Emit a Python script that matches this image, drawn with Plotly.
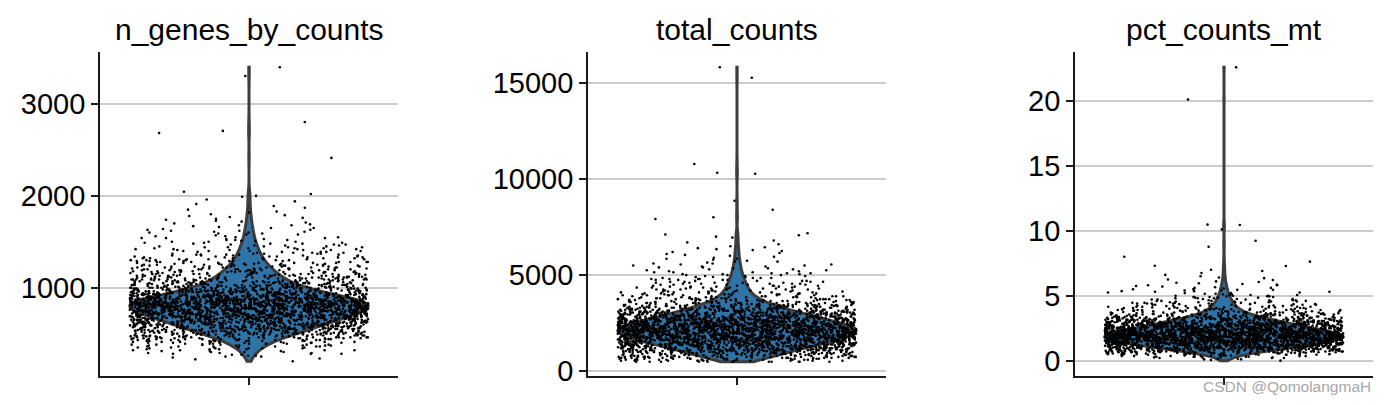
import numpy as np
import plotly.graph_objects as go

# ---------------- data ----------------
panel_titles = ["n_genes_by_counts", "total_counts", "pct_counts_mt"]

# n_genes_by_counts: number of cells at each 10-gene level, starting at 200
ng_start, ng_step = 200, 10
ng_counts = [
    1, 0, 1, 1, 1, 2, 2, 2, 3, 3,
    3, 3, 4, 4, 5, 5, 6, 6, 7, 7,
    8, 9, 10, 11, 12, 13, 14, 15, 17, 18,
    20, 21, 22, 23, 24, 25, 26, 27, 28, 29,
    30, 31, 33, 34, 35, 37, 38, 39, 40, 41,
    42, 43, 44, 45, 46, 47, 48, 49, 50, 51,
    52, 53, 53, 52, 51, 50, 48, 46, 44, 42,
    40, 37, 35, 33, 31, 29, 27, 26, 24, 23,
    22, 21, 20, 19, 18, 17, 16, 16, 15, 15,
    14, 14, 13, 13, 12, 12, 11, 11, 10, 10,
    10, 9, 9, 8, 8, 8, 7, 7, 7, 6,
    6, 6, 6, 5, 5, 5, 5, 5, 4, 4,
    4, 4, 4, 4, 4, 3, 3, 3, 3, 3,
    3, 2, 3, 2, 3, 2, 2, 1, 2, 2,
    2, 2, 2, 2, 1, 2, 1, 1, 2, 1,
    1, 1, 1, 1, 1, 1, 1, 1, 1, 1,
    1, 0, 1, 1, 0, 1, 0, 1, 0, 1,
    0, 1, 0, 0, 1, 0, 1, 0, 0, 1,
    1,
]
ng_outliers = [2020, 2045, 2413, 2685, 2707, 2804, 3304, 3400]
ng_ticks = [1000, 2000, 3000]

# total_counts: number of cells at each 50-count level, starting at 500
tc_start, tc_step = 500, 50
tc_counts = [
    11, 12, 13, 15, 16, 18, 20, 21, 23, 25,
    27, 29, 31, 33, 35, 37, 39, 41, 43, 45,
    47, 49, 51, 53, 55, 57, 59, 60, 61, 62,
    63, 64, 65, 66, 66, 65, 63, 61, 59, 57,
    54, 52, 50, 48, 46, 44, 42, 40, 38, 36,
    35, 33, 31, 29, 27, 25, 23, 21, 20, 19,
    17, 16, 14, 13, 12, 11, 10, 10, 9, 8,
    8, 7, 7, 7, 6, 6, 6, 6, 5, 5,
    5, 5, 5, 4, 4, 4, 4, 4, 3, 3,
    3, 3, 3, 3, 2, 2, 2, 2, 2, 2,
    2, 2, 2, 1, 2, 1, 1, 2, 1, 1,
    1, 1, 1, 1, 1, 1, 1, 1, 1, 1,
    1, 0, 1, 0, 1, 0, 1, 0, 0, 1,
    1,
]
tc_outliers = [7069, 7110, 7173, 7916, 8004, 8400, 8867, 10270, 10322, 10775, 15260, 15800]
tc_ticks = [0, 5000, 10000, 15000]

# pct_counts_mt: number of cells at each 0.05 % level, starting at 0
mt_start, mt_step = 0.0, 0.05
mt_counts = [
    1, 1, 2, 2, 3, 4, 5, 6, 7, 8,
    10, 12, 14, 16, 19, 22, 25, 28, 31, 33,
    34, 36, 38, 40, 42, 45, 47, 49, 51, 52,
    54, 56, 58, 60, 62, 63, 64, 64, 63, 62,
    60, 58, 57, 55, 54, 52, 50, 49, 47, 46,
    44, 43, 41, 40, 38, 36, 35, 33, 31, 30,
    29, 27, 25, 24, 22, 21, 19, 18, 16, 15,
    14, 13, 12, 11, 10, 10, 9, 8, 8, 7,
    7, 7, 6, 6, 6, 5, 5, 5, 5, 5,
    4, 4, 4, 4, 4, 3, 3, 3, 3, 3,
    3, 3, 2, 2, 2, 2, 2, 2, 2, 2,
    2, 1, 2, 1, 1, 1, 2, 1, 1, 1,
    1, 1, 1, 0, 1, 1, 0, 1, 1, 0,
    1, 0, 1, 0, 0, 1, 0, 0, 1, 0,
    1,
]
mt_outliers = [7.28, 7.3, 7.62, 8.0, 8.77, 9.23, 10.1, 10.44, 10.47, 20.1, 22.57]
mt_ticks = [0, 5, 10, 15, 20]

# ---------------- styling / layout ----------------
FONT = "Liberation Sans, Arial, Helvetica, sans-serif"
VIOLIN_FILL = "#2f74a8"
VIOLIN_LINE = "#3d3d3d"
AXIS_COL = "#1a1a1a"
W, H = 1388, 405
x_domains_px = [(100, 398), (588, 886), (1075, 1373)]
y_domain_px = (52, 376)          # top, bottom in pixels
y_ranges = [[39, 3566], [-244, 16596], [-1.18, 23.75]]

panels = [
    (ng_start, ng_step, ng_counts, ng_outliers, ng_ticks),
    (tc_start, tc_step, tc_counts, tc_outliers, tc_ticks),
    (mt_start, mt_step, mt_counts, mt_outliers, mt_ticks),
]

fig = go.Figure()
layout_axes = {}
annotations = []

for i, (start, step, counts, outliers, ticks) in enumerate(panels):
    n = "" if i == 0 else str(i + 1)
    xa, ya = "x" + n, "y" + n
    counts = np.asarray(counts)
    levels = start + step * np.arange(len(counts))
    values = np.concatenate([np.repeat(levels, counts), np.asarray(outliers, float)])

    bw = np.std(values, ddof=1) * len(values) ** (-0.2)  # Scott's rule (as seaborn)
    fig.add_trace(go.Violin(
        y=values, x0=0, xaxis=xa, yaxis=ya, width=0.8,
        spanmode="hard", scalemode="width", bandwidth=bw,
        points=False, fillcolor=VIOLIN_FILL,
        line=dict(color=VIOLIN_LINE, width=3),
        box_visible=False, meanline_visible=False,
        hoverinfo="skip", showlegend=False,
    ))

    # jittered points, grouped by local density so the library's jitter spreads them evenly
    groups = [
        np.repeat(levels[counts >= 8], counts[counts >= 8]),
        np.repeat(levels[(counts >= 3) & (counts < 8)], counts[(counts >= 3) & (counts < 8)]),
        np.repeat(levels[(counts > 0) & (counts < 3)], counts[(counts > 0) & (counts < 3)]),
        np.asarray(outliers, float),
    ]
    for g in groups:
        fig.add_trace(go.Box(
            y=g, x0=0, xaxis=xa, yaxis=ya, width=0.8,
            boxpoints="all", jitter=1, pointpos=0,
            fillcolor="rgba(0,0,0,0)", line=dict(width=0, color="rgba(0,0,0,0)"),
            marker=dict(color="black", size=2.6, line=dict(width=0)),
            hoverinfo="skip", showlegend=False,
        ))

    x0p, x1p = x_domains_px[i]
    layout_axes["xaxis" + n] = dict(
        domain=[x0p / W, x1p / W], anchor=ya, type="linear", range=[-0.5, 0.5],
        showgrid=False, zeroline=False, showline=True, linecolor=AXIS_COL, linewidth=1.8,
        ticks="outside", ticklen=7, tickwidth=1.7, tickcolor=AXIS_COL,
        tickvals=[0], ticktext=[""], fixedrange=True, automargin=False,
    )
    layout_axes["yaxis" + n] = dict(
        domain=[(H - y_domain_px[1]) / H, (H - y_domain_px[0]) / H], anchor=xa,
        range=y_ranges[i], showgrid=True, gridcolor="#cccccc", gridwidth=1.6,
        zeroline=False, showline=True, linecolor=AXIS_COL, linewidth=1.8,
        ticks="outside", ticklen=7, tickwidth=1.7, tickcolor=AXIS_COL,
        tickvals=ticks, tickformat="d",
        tickfont=dict(size=29, color="black", family=FONT),
        fixedrange=True, automargin=False,
    )
    annotations.append(dict(
        text=panel_titles[i], xref="paper", yref="paper",
        x=(x0p + x1p) / 2 / W, y=(H - 29) / H, xanchor="center", yanchor="middle",
        showarrow=False, font=dict(size=30, color="black", family=FONT),
    ))

annotations.append(dict(
    text="CSDN @QomolangmaH", xref="paper", yref="paper",
    x=1373 / W, y=(H - 386) / H, xanchor="right", yanchor="middle",
    showarrow=False, font=dict(size=15.5, color="#a8a8a8", family=FONT),
))

fig.update_layout(
    width=W, height=H, autosize=False, margin=dict(l=0, r=0, t=0, b=0, pad=0),
    paper_bgcolor="white", plot_bgcolor="white",
    font=dict(family=FONT, color="black"),
    showlegend=False, hovermode=False,
    violinmode="overlay", boxmode="overlay",
    annotations=annotations, **layout_axes,
)

fig.write_html(
    "out.html",
    config={"displayModeBar": False, "responsive": False},
    post_script="document.body.style.margin='0px';document.body.style.overflow='hidden';",
)
